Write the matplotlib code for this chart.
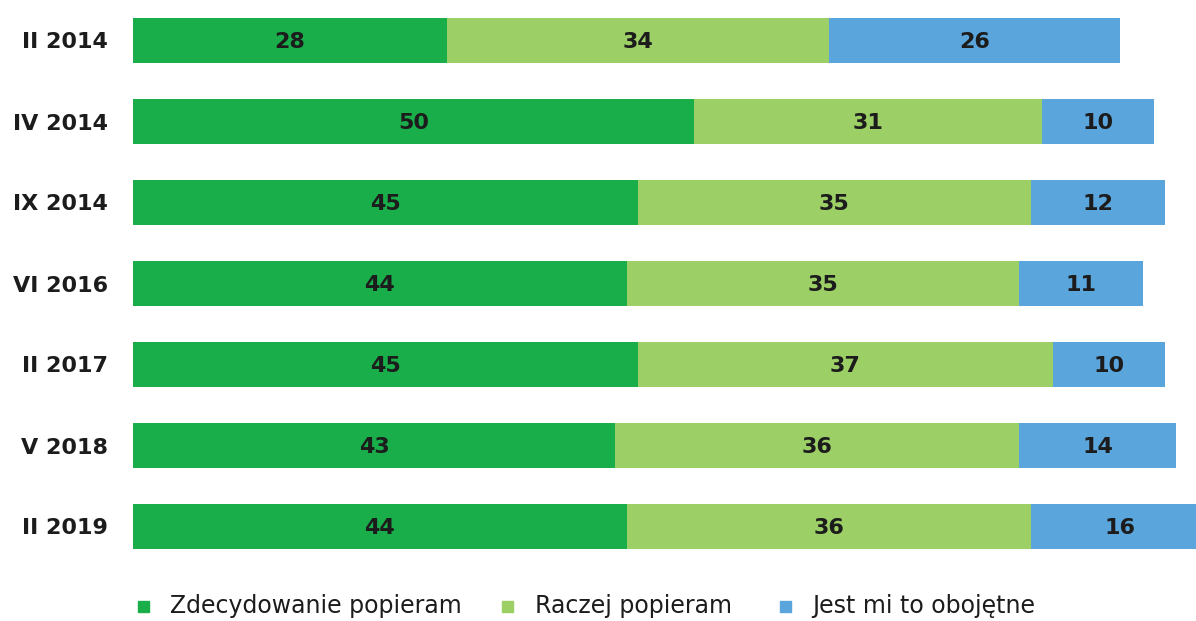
import matplotlib
matplotlib.use("Agg")
import matplotlib.pyplot as plt
from matplotlib.patches import Rectangle

categories = ["II 2014", "IV 2014", "IX 2014", "VI 2016", "II 2017", "V 2018", "II 2019"]
zdecydowanie = [28, 50, 45, 44, 45, 43, 44]
raczej = [34, 31, 35, 35, 37, 36, 36]
obojetne = [26, 10, 12, 11, 10, 14, 16]
series_labels = ["Zdecydowanie popieram", "Raczej popieram", "Jest mi to obojętne"]
colors = ["#1aae4b", "#9ccf66", "#5aa5dc"]

plt.rcParams['font.family'] = ['DejaVu Sans']

W, H = 1196, 621
fig = plt.figure(figsize=(W / 100, H / 100), dpi=100)
ax = fig.add_axes([133 / W, 54 / H, 1 - 133 / W, 567 / H])

ypos = list(range(len(categories)))
series = [zdecydowanie, raczej, obojetne]
left = [0] * len(categories)
for vals, col in zip(series, colors):
    ax.barh(ypos, vals, left=left, height=0.555, color=col, edgecolor='none')
    for y, v, l in zip(ypos, vals, left):
        ax.text(l + v / 2, y + 0.02, str(v), ha='center', va='center', fontsize=16,
                fontweight='bold', color='#1c1c1c')
    left = [a + b for a, b in zip(left, vals)]

ax.set_xlim(0, (W - 133) / 11.22)
ax.set_ylim(len(categories) - 0.5, -0.5)
ax.set_yticks(ypos)
ax.set_yticklabels(categories, fontsize=16, fontweight='bold', color='#1c1c1c')
ax.tick_params(axis='y', length=0, pad=18)
ax.set_xticks([])
for s in ax.spines.values():
    s.set_visible(False)

# legend
leg_x = [138, 502, 780]
text_x = [170, 535, 812]
for x, tx, lab, col in zip(leg_x, text_x, series_labels, colors):
    fig.patches.append(Rectangle((x / W, (H - 612) / H), 11 / W, 11 / H,
                                 transform=fig.transFigure, color=col, figure=fig))
    fig.text(tx / W, (H - 606) / H, lab, ha='left', va='center',
             fontsize=17, color='#1c1c1c')

fig.savefig("out.png", dpi=100, facecolor='white')
